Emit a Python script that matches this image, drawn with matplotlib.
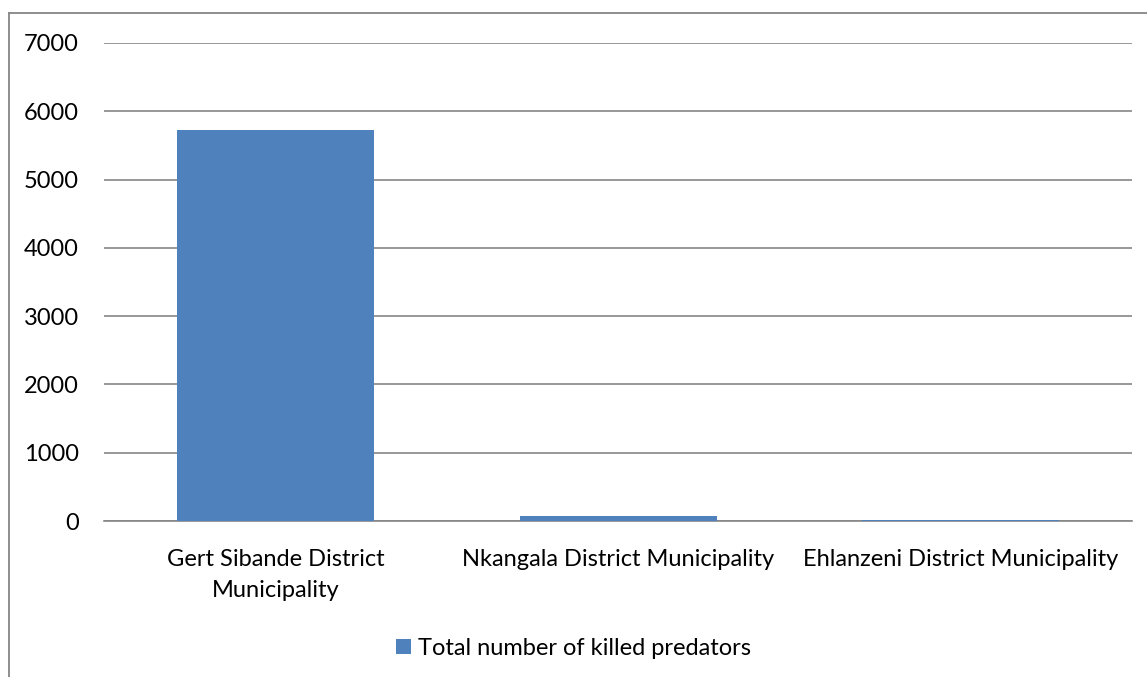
import matplotlib.pyplot as plt
from matplotlib.lines import Line2D

# districts and values
districts = ['Gert Sibande District\nMunicipality',
             'Nkangala District Municipality',
             'Ehlanzeni District Municipality']
killed = [5720, 70, 12]
yticks = [0, 1000, 2000, 3000, 4000, 5000, 6000, 7000]

plt.rcParams['font.family'] = ['Lato', 'DejaVu Sans']

fig = plt.figure(figsize=(11.47, 6.77), dpi=100)
ax = fig.add_axes([0.0907, 0.2304, 0.8963, 0.7061])

x = range(len(districts))
bars = ax.bar(x, killed, width=0.575, color='#4F81BD', zorder=3,
              label='Total number of killed predators')

ax.set_ylim(0, 7000)
ax.set_xlim(-0.5, 2.5)
ax.set_yticks(yticks)
ax.set_xticks(list(x))
ax.set_xticklabels(districts, linespacing=1.6)
ax.yaxis.grid(True, color='#868686', linewidth=1.2, zorder=0)
ax.tick_params(axis='both', length=0, labelsize=17, colors='black')
ax.tick_params(axis='y', pad=18)
ax.tick_params(axis='x', pad=20)
for side in ['top', 'right', 'left']:
    ax.spines[side].set_visible(False)
ax.spines['bottom'].set_color('#868686')
ax.spines['bottom'].set_linewidth(1.2)

fig.legend(handles=[bars], loc='center', bbox_to_anchor=(0.5, 0.042),
           frameon=False, fontsize=17, handlelength=0.6, handleheight=0.6,
           handletextpad=0.3)

# outer chart frame: only top and left edges are inside the picture
fx, fy = 9 / 1147, 1 - 13 / 677
fig.lines.append(Line2D([fx, 1], [fy, fy], transform=fig.transFigure,
                        color='#868686', linewidth=1.3))
fig.lines.append(Line2D([fx, fx], [0, fy], transform=fig.transFigure,
                        color='#868686', linewidth=1.3))

fig.savefig('out.png', dpi=100)
